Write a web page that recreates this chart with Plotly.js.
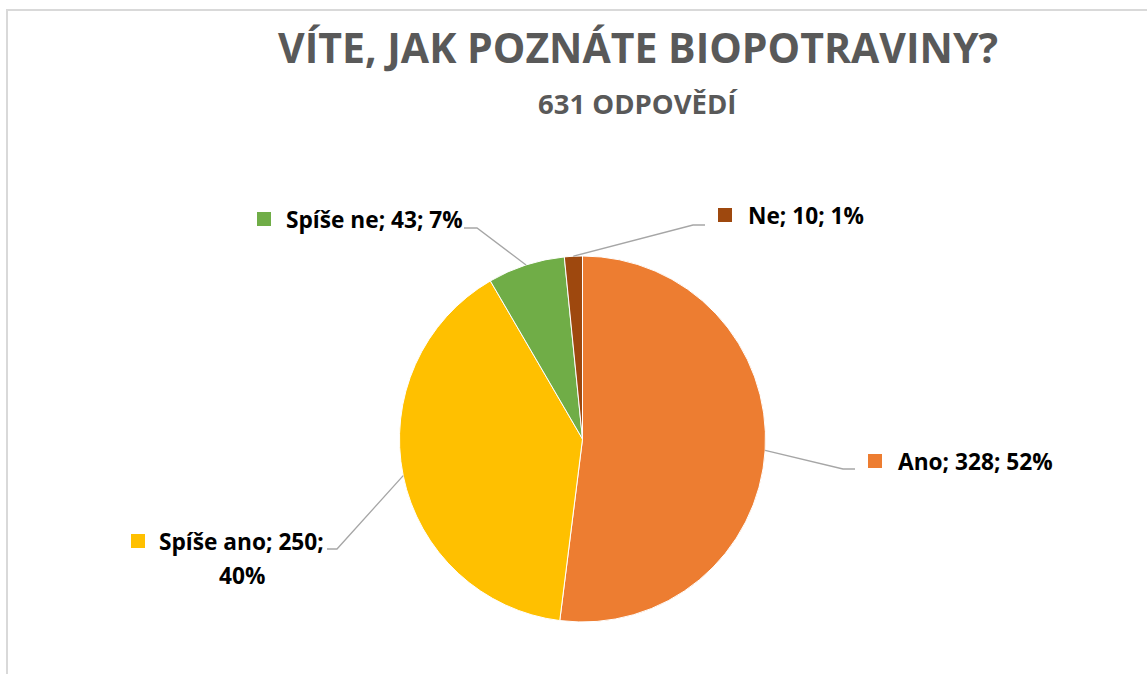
<!DOCTYPE html>
<html>
<head>
<meta charset="utf-8">
<script src="https://cdn.plot.ly/plotly-3.0.1.min.js"></script>
<style>
  html, body { margin: 0; padding: 0; background: #ffffff; }
  #chart { width: 1147px; height: 674px; }
</style>
</head>
<body>
<div id="chart"></div>
<script>
// ---- data ----
const categories = ["Ano", "Spíše ano", "Spíše ne", "Ne"];
const counts = [328, 250, 43, 10];
const percentLabels = ["52%", "40%", "7%", "1%"];
const sliceColors = ["#ED7D31", "#FFC000", "#70AD47", "#9E480E"];
const titleText = "VÍTE, JAK POZNÁTE BIOPOTRAVINY?";
const subtitleText = "631 ODPOVĚDÍ";

// ---- layout geometry (pixels) ----
const W = 1147, H = 674;
const cx = 582.5, cy = 439, R = 183;
// label layout: key square left x, text left x, text center y, elbow and end of leader line
const labelLayout = [
  { sq: 868, tx: 896, ty: 461, elbow: [843, 469], end: [855, 469] },
  { sq: 131, tx: 157, ty: 541, elbow: [337, 549], end: [327, 549], wrap: true, tx2: 242, ty2: 575 },
  { sq: 257, tx: 284, ty: 219, elbow: [477, 228], end: [464, 228] },
  { sq: 718, tx: 746, ty: 215, elbow: [693, 225], end: [705, 225] }
];

const px = x => x / W;
const py = y => 1 - y / H;

const total = counts.reduce((a, b) => a + b, 0);
const shapes = [];
const annotations = [];

// frame
shapes.push({ type: "rect", xref: "paper", yref: "paper",
  x0: px(7), x1: px(1165), y0: py(690), y1: py(10),
  line: { color: "#D9D9D9", width: 2 }, fillcolor: "rgba(0,0,0,0)", layer: "below" });

let cum = 0;
const FONT = "'Open Sans', 'Noto Sans', sans-serif";
const labelFont = { family: FONT, size: 22.7, color: "#000000" };
categories.forEach((cat, i) => {
  const mid = (cum + counts[i] / 2) / total * 2 * Math.PI; // clockwise from top
  cum += counts[i];
  const sx = cx + R * Math.sin(mid);
  const sy = cy - R * Math.cos(mid);
  const L = labelLayout[i];
  shapes.push({ type: "path", xref: "paper", yref: "paper",
    path: `M ${px(sx)} ${py(sy)} L ${px(L.elbow[0])} ${py(L.elbow[1])} L ${px(L.end[0])} ${py(L.end[1])}`,
    line: { color: "#A6A6A6", width: 1.3 } });
  shapes.push({ type: "rect", xref: "paper", yref: "paper",
    x0: px(L.sq), x1: px(L.sq + 14), y0: py(L.ty + 7), y1: py(L.ty - 7),
    fillcolor: sliceColors[i], line: { width: 0 } });
  const main = L.wrap ? `${cat}; ${counts[i]};` : `${cat}; ${counts[i]}; ${percentLabels[i]}`;
  annotations.push({ xref: "paper", yref: "paper", x: px(L.tx), y: py(L.ty),
    xanchor: "left", yanchor: "middle", showarrow: false,
    text: `<b>${main}</b>`, font: labelFont });
  if (L.wrap) {
    annotations.push({ xref: "paper", yref: "paper", x: px(L.tx2), y: py(L.ty2),
      xanchor: "center", yanchor: "middle", showarrow: false,
      text: `<b>${percentLabels[i]}</b>`, font: labelFont });
  }
});

// titles
annotations.push({ xref: "paper", yref: "paper", x: px(638), y: py(47),
  xanchor: "center", yanchor: "middle", showarrow: false,
  text: `<b>${titleText}</b>`,
  font: { family: FONT, size: 41, color: "#595959" } });
annotations.push({ xref: "paper", yref: "paper", x: px(638), y: py(103),
  xanchor: "center", yanchor: "middle", showarrow: false,
  text: `<b>${subtitleText}</b>`,
  font: { family: FONT, size: 27.5, color: "#595959" } });

const trace = {
  type: "pie",
  labels: categories,
  values: counts,
  sort: false,
  direction: "clockwise",
  rotation: 0,
  textinfo: "none",
  hoverinfo: "label+value+percent",
  marker: { colors: sliceColors, line: { color: "#FFFFFF", width: 1 } },
  domain: { x: [px(cx - R), px(cx + R)], y: [py(cy + R), py(cy - R)] },
  showlegend: false
};

const layout = {
  width: W, height: H,
  margin: { l: 0, r: 0, t: 0, b: 0 },
  paper_bgcolor: "#FFFFFF",
  showlegend: false,
  shapes: shapes,
  annotations: annotations
};

Plotly.newPlot("chart", [trace], layout, { displayModeBar: false, staticPlot: true });
</script>
</body>
</html>
